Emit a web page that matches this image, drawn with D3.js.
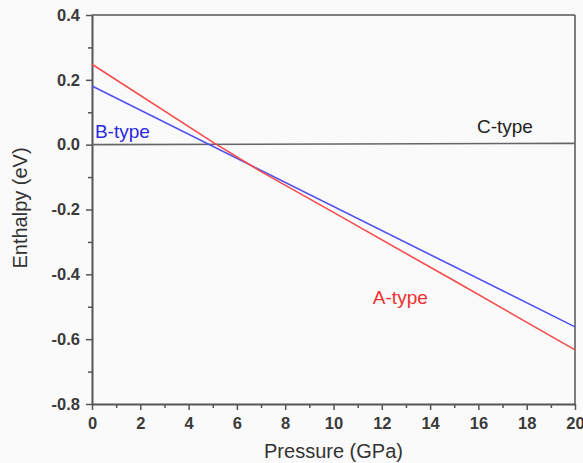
<!DOCTYPE html>
<html lang="en">
<head>
  <meta charset="utf-8">
  <title>Enthalpy vs Pressure</title>
  <style>
    body { margin: 0; background-color: #fafafa; }
    svg { display: block; background-color: #fafafa; }
    text { font-family: "Liberation Sans", Arial, sans-serif; }
  </style>
  <script src="https://d3js.org/d3.v7.min.js"></script>
</head>
<body>
<script>

    // values
    let pressureA = [0, 5, 7, 10, 15, 20]
    let enthalpyA = [0.248, 0.008, -0.083, -0.209, -0.42, -0.633]
    let pressureB = [0, 20]
    let enthalpyB = [0.181, -0.562]
    let pressureC = [0, 20]
    let enthalpyC = [0.0, 0.004]
    let xTicks = [0, 2, 4, 6, 8, 10, 12, 14, 16, 18, 20]
    let yTicks = [-0.8, -0.6, -0.4, -0.2, 0.0, 0.2, 0.4]

    let width = 583
    let height = 463
    let plotLeft = 92, plotRight = 575, plotTop = 15, plotBottom = 404

    let svg = d3.select('body')
                .append('svg')
                .attr('width', width)
                .attr('height', height)

    let xScale = d3.scaleLinear().domain([0, 20]).range([plotLeft, plotRight])
    let yScale = d3.scaleLinear().domain([-0.8, 0.4]).range([plotBottom, plotTop])

    let axisColor = '#555'

    // frame top and right
    svg.append('line')
        .attr('x1', plotLeft).attr('x2', plotRight)
        .attr('y1', plotTop).attr('y2', plotTop)
        .attr('stroke', axisColor).attr('stroke-width', 1.5)
    svg.append('line')
        .attr('x1', plotRight).attr('x2', plotRight)
        .attr('y1', plotTop).attr('y2', plotBottom)
        .attr('stroke', axisColor).attr('stroke-width', 1.5)

    // minor ticks
    let xMinor = d3.range(1, 20, 2)
    let yMinor = d3.range(-7, 4, 2).map(d => d / 10)

    svg.append('g')
        .attr('transform', `translate(0, ${plotBottom})`)
        .call(d3.axisBottom(xScale).tickValues(xMinor).tickSize(4).tickFormat(''))
        .call(g => g.select('.domain').remove())
        .selectAll('line').attr('stroke', axisColor).attr('stroke-width', 1.5)

    svg.append('g')
        .attr('transform', `translate(${plotLeft}, 0)`)
        .call(d3.axisLeft(yScale).tickValues(yMinor).tickSize(4).tickFormat(''))
        .call(g => g.select('.domain').remove())
        .selectAll('line').attr('stroke', axisColor).attr('stroke-width', 1.5)

    // major axes, plain hyphen for negatives like the original
    let yFormat = d => d3.format('.1f')(d).replace('\u2212', '-')

    let xAxis = svg.append('g')
        .attr('transform', `translate(0, ${plotBottom})`)
        .call(d3.axisBottom(xScale).tickValues(xTicks).tickSize(6).tickPadding(7).tickSizeOuter(0).tickFormat(d3.format('d')))
    let yAxis = svg.append('g')
        .attr('transform', `translate(${plotLeft}, 0)`)
        .call(d3.axisLeft(yScale).tickValues(yTicks).tickSize(6).tickPadding(6).tickSizeOuter(0).tickFormat(yFormat))

    for (let ax of [xAxis, yAxis]) {
        ax.select('.domain').attr('stroke', axisColor).attr('stroke-width', 2)
        ax.selectAll('line').attr('stroke', axisColor).attr('stroke-width', 1.5)
        ax.selectAll('text')
            .attr('fill', '#3a3a3a')
            .style('font-size', '16.5px')
            .style('font-weight', '600')
    }

    // lines
    let line = d3.line().x(d => xScale(d[0])).y(d => yScale(d[1]))
    let series = [
        { px: pressureC, en: enthalpyC, color: '#666' },
        { px: pressureB, en: enthalpyB, color: '#5050f0' },
        { px: pressureA, en: enthalpyA, color: '#f54c4c' }
    ]
    series.forEach(s => {
        svg.append('path')
            .datum(s.px.map((p, i) => [p, s.en[i]]))
            .attr('d', line)
            .attr('fill', 'none')
            .attr('stroke', s.color)
            .attr('stroke-width', 1.6)
    })

    // series labels
    svg.append('text').attr('x', xScale(0.12)).attr('y', yScale(0.02))
        .attr('fill', '#2a2ae0').style('font-size', '19px').text('B-type')
    svg.append('text').attr('x', xScale(15.94)).attr('y', yScale(0.036))
        .attr('fill', '#222').style('font-size', '19px').text('C-type')
    svg.append('text').attr('x', xScale(11.63)).attr('y', yScale(-0.491))
        .attr('fill', '#f03030').style('font-size', '19px').text('A-type')

    // axis titles
    svg.append('text')
        .attr('x', (plotLeft + plotRight) / 2)
        .attr('y', 458)
        .attr('text-anchor', 'middle')
        .attr('fill', '#333')
        .style('font-size', '20px')
        .text('Pressure (GPa)')

    svg.append('text')
        .attr('transform', `translate(27, 208) rotate(-90)`)
        .attr('text-anchor', 'middle')
        .attr('fill', '#333')
        .style('font-size', '20px')
        .text('Enthalpy (eV)')

</script>
</body>
</html>
